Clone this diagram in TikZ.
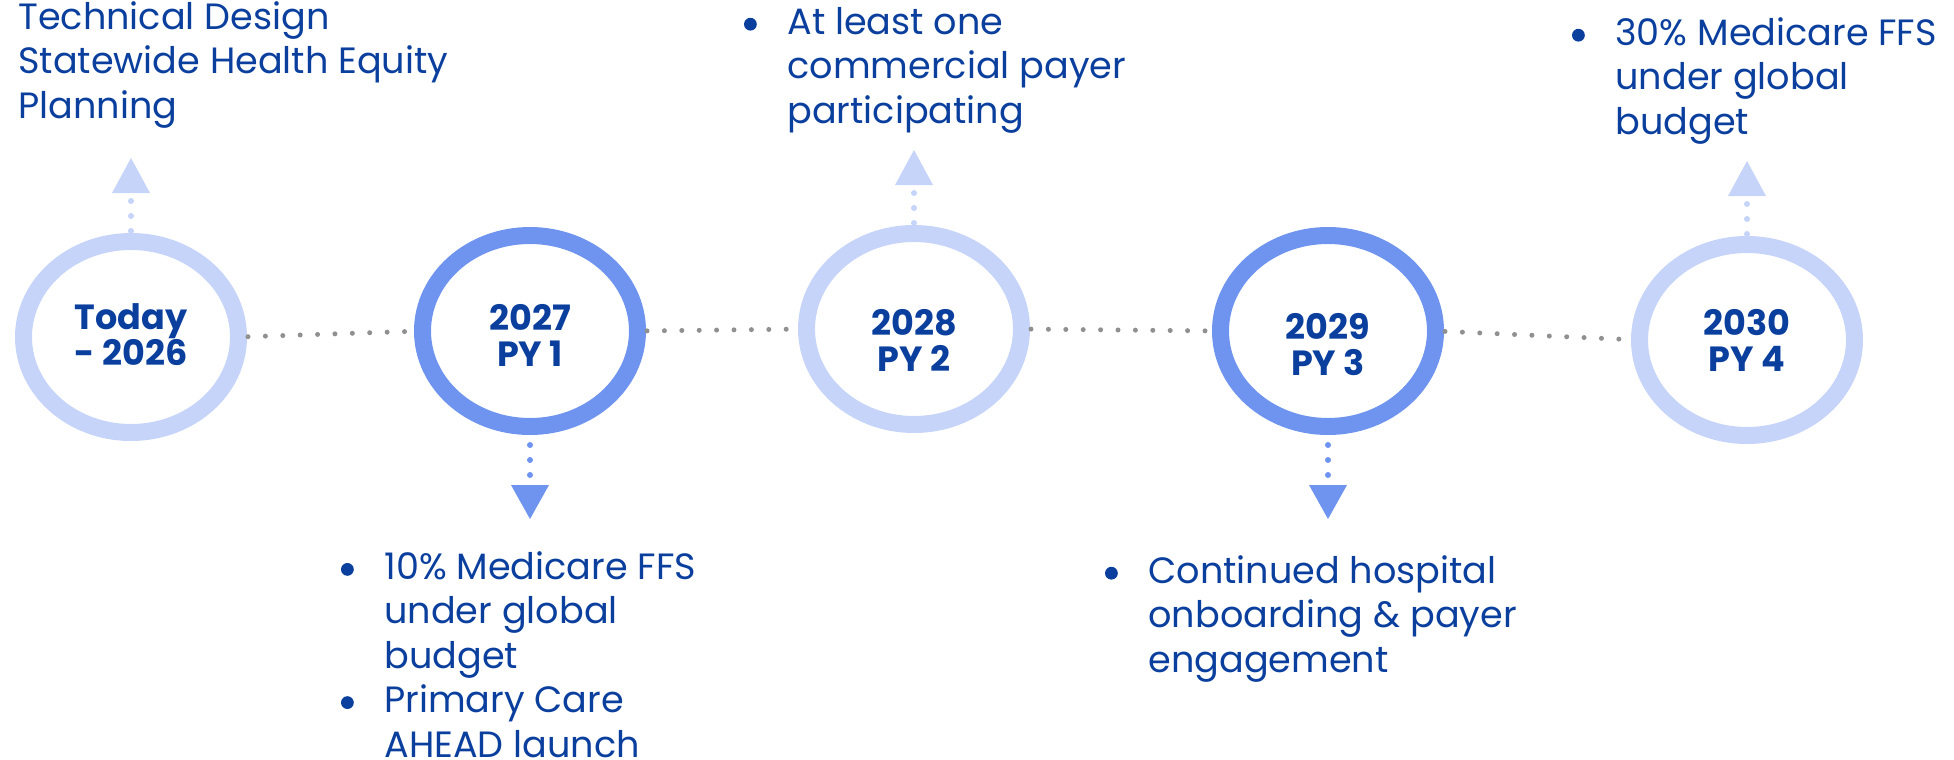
\documentclass[tikz,border=0pt]{standalone}
\usepackage{fontspec}
\setmainfont{Poppins}
\usetikzlibrary{shapes.geometric}

\definecolor{navy}{HTML}{0B3F9E}
\definecolor{ringlight}{HTML}{C5D4F8}
\definecolor{ringdark}{HTML}{6E94F0}
\definecolor{dotgray}{HTML}{909090}

\tikzset{
  ring/.style={ellipse,draw,line width=8.5pt,minimum width=107.5pt,minimum height=95.5pt,inner sep=0pt,outer sep=0pt},
  year/.style={align=center,font=\bfseries\fontsize{17.5}{18}\selectfont,text=navy,inner sep=0pt},
  note/.style={align=left,anchor=base west,font=\fontsize{18.3}{22.2}\selectfont,text=navy,inner sep=0pt},
  link/.style={dotgray,line width=2.5pt,line cap=round,dash pattern=on 0pt off 8.7pt,shorten <=4.75pt,shorten >=4.75pt},
  stem/.style={line width=3pt,line cap=round,dash pattern=on 0pt off 7.5pt}
}
\newcommand{\bul}{\llap{\tikz[baseline=0pt]\fill (0pt,5pt) circle[radius=3.2pt];\hspace{15.3pt}}}

\begin{document}
\begin{tikzpicture}[x=0.5pt,y=-0.5pt]
   \useasboundingbox (0,0) rectangle (1954,760);

   \node[ring,ringlight] (a) at (131,337) {};
   \node[ring,ringdark] (b) at (530,331) {};
   \node[ring,ringlight] (c) at (914,329) {};
   \node[ring,ringdark] (d) at (1328,331) {};
   \node[ring,ringlight] (e) at (1747,340) {};

   \node[year] (ya) at (131,335) {Today\\- 2026};
   \node[year] (yb) at (530,335) {2027\\PY 1};
   \node[year] (yc) at (914,340) {2028\\PY 2};
   \node[year] (yd) at (1328,345) {2029\\PY 3};
   \node[year] (ye) at (1747,340) {2030\\PY 4};

   \draw[link] (a.east) -- (b.west);
   \draw[link] (b.east) -- (c.west);
   \draw[link] (c.east) -- (d.west);
   \draw[link] (d.east) -- (e.west);

   \coordinate (ta) at (131,199);
   \coordinate (tb) at (530,477);
   \coordinate (tc) at (914,191);
   \coordinate (td) at (1328,477);
   \coordinate (te) at (1747,202);

   \draw[stem,ringlight,shorten <=5.25pt] (a.north) -- (ta);
   \draw[stem,ringdark,shorten <=9.25pt] (b.south) -- (tb);
   \draw[stem,ringlight,shorten <=5.25pt] (c.north) -- (tc);
   \draw[stem,ringdark,shorten <=9.25pt] (d.south) -- (td);
   \draw[stem,ringlight,shorten <=5.25pt] (e.north) -- (te);

   \fill[ringlight] (ta) ++(-19,-6) -- ++(38,0) -- ++(-19,-35) -- cycle;
   \fill[ringdark] (tb) ++(-19,8) -- ++(38,0) -- ++(-19,34) -- cycle;
   \fill[ringlight] (tc) ++(-19,-6) -- ++(38,0) -- ++(-19,-35) -- cycle;
   \fill[ringdark] (td) ++(-19,8) -- ++(38,0) -- ++(-19,34) -- cycle;
   \fill[ringlight] (te) ++(-19,-6) -- ++(38,0) -- ++(-19,-35) -- cycle;

   \node[note] (na) at (18,118) {Technical Design\\Statewide Health Equity\\Planning};
   \node[note] (nb) at (384,757) {\bul 10\% Medicare FFS\\under global\\budget\\\bul Primary Care\\AHEAD launch};
   \node[note] (nc) at (787,123) {\bul At least one\\commercial payer\\participating};
   \node[note] (nd) at (1148,672) {\bul Continued hospital\\onboarding \& payer\\engagement};
   \node[note] (ne) at (1615,134) {\bul 30\% Medicare FFS\\under global\\budget};
\end{tikzpicture}
\end{document}
